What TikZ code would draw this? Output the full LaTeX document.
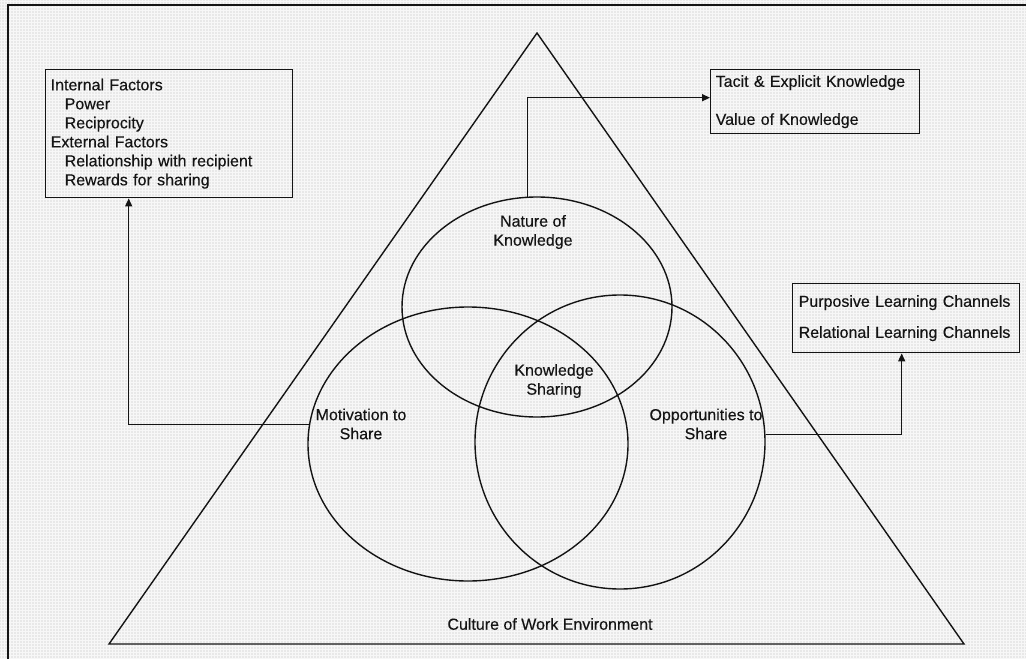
\documentclass[tikz,border=0pt]{standalone}
\usepackage{fontspec}
\setmainfont{Liberation Sans}[FakeBold=0.3]
\usetikzlibrary{shapes.geometric,arrows.meta}
\definecolor{paper}{RGB}{232,232,232}
\definecolor{gridline}{RGB}{247,247,247}
\definecolor{ink}{RGB}{20,20,20}

\begin{document}
\begin{tikzpicture}[x=1pt,y=-1pt,
  every node/.style={font=\fontsize{16}{19}\selectfont, text=ink},
  outline/.style={draw=ink, line width=1.4pt},
  venn/.style={ellipse, draw=ink, line width=1.4pt, inner sep=0pt},
  infobox/.style={draw=ink, line width=1.4pt, rectangle, align=left,
    inner xsep=5pt, inner ysep=0pt, anchor=north west},
  link/.style={draw=ink, line width=1.4pt, -{Triangle[length=8pt,width=7pt]}},
  caption/.style={align=center, inner sep=0pt}]

% paper with its fine grid
\useasboundingbox (0,0) rectangle (1026,659);
\fill[paper] (0,0) rectangle (1026,659);
\foreach \gx in {1,4,...,1025} \draw[gridline, line width=0.9pt] (\gx,0) -- (\gx,659);
\foreach \gy in {1,4,...,658} \draw[gridline, line width=0.9pt] (0,\gy) -- (1026,\gy);

% frame
\draw[ink, line width=1.6pt] (8,659) -- (8,5) -- (1026,5);

% culture triangle
\coordinate (apex) at (537,33);
\coordinate (bl) at (109,644);
\coordinate (br) at (964,644);
\draw[outline, line join=miter] (apex) -- (bl) -- (br) -- cycle;

% the three overlapping sets
\node[venn, minimum width=270pt, minimum height=220pt] (nat) at (537,307) {};
\node[venn, minimum width=320pt, minimum height=274pt] (mot) at (468,444) {};
\node[venn, minimum width=290pt, minimum height=294pt] (opp) at (620,442) {};

% captions
\node[caption] (natlab) at (533,232) {Nature of\\Knowledge};
\node[caption] (kslab) at (554,381) {Knowledge\\Sharing};
\node[caption] (motlab) at (361,424) {Motivation to\\Share};
\node[caption] (opplab) at (706,424) {Opportunities to\\Share};
\node[caption] (culture) at (550,624) {Culture of Work Environment};

% detail boxes
\node[infobox, text width=237pt, minimum height=128pt] (motbox) at (45,69)
  {Internal Factors\\
   \hspace*{14pt}Power\\
   \hspace*{14pt}Reciprocity\\
   External Factors\\
   \hspace*{14pt}Relationship with recipient\\
   \hspace*{14pt}Rewards for sharing};
\node[infobox, text width=199pt, minimum height=64pt] (natbox) at (710,69)
  {Tacit \& Explicit Knowledge\\[19pt]Value of Knowledge};
\node[infobox, inner xsep=6pt, text width=215pt, minimum height=69pt] (oppbox) at (792,283)
  {Purposive Learning Channels\\[12pt]Relational Learning Channels};

% connectors
\draw[link] (nat.95) |- ([yshift=4pt]natbox.west);
\draw[link] (mot.173) -| ([xshift=-40.5pt]motbox.south);
\draw[link] (opp.3) -| ([xshift=-4.5pt]oppbox.south);
\end{tikzpicture}
\end{document}
